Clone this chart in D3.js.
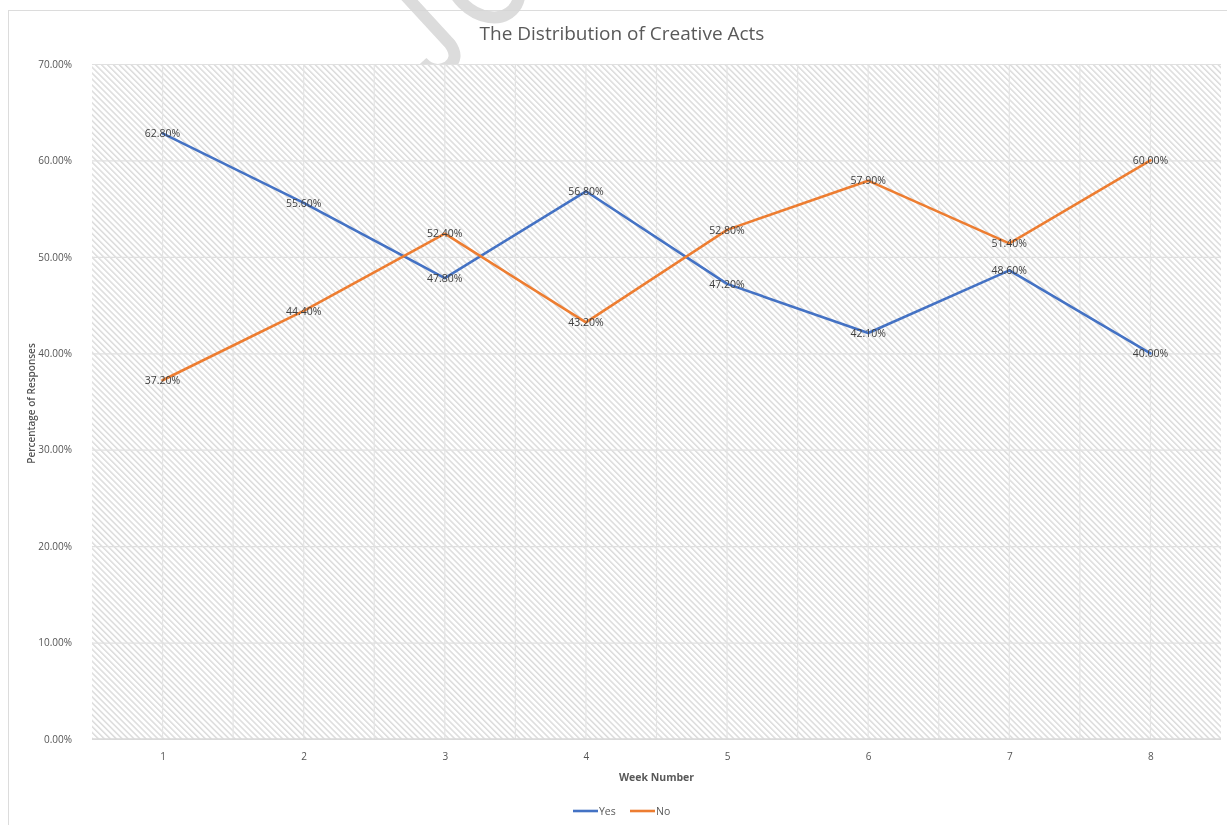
<!DOCTYPE html>
<html>
<head>
<meta charset="utf-8">
<script src="https://cdn.jsdelivr.net/npm/d3@7"></script>
<style>
  html, body { margin: 0; padding: 0; background: #fff; }
  svg { display: block; will-change: transform; }
  text { font-family: "Open Sans", "Noto Sans", sans-serif; }
</style>
</head>
<body>
<svg id="chart" width="1227" height="825"></svg>
<script>
// Weekly share of responses (percent)
const weeks = ["1", "2", "3", "4", "5", "6", "7", "8"];
const yesValues = [62.8, 55.6, 47.8, 56.8, 47.2, 42.1, 48.6, 40.0];
const noValues = [37.2, 44.4, 52.4, 43.2, 52.8, 57.9, 51.4, 60.0];
const yTicks = [0, 10, 20, 30, 40, 50, 60, 70];
const seriesNames = ["Yes", "No"];
const seriesColors = ["#4472C4", "#ED7D31"];

const series = [
  { name: seriesNames[0], color: seriesColors[0], values: yesValues },
  { name: seriesNames[1], color: seriesColors[1], values: noValues }
];

const svg = d3.select("#chart");
const plot = { left: 92, right: 1221, top: 64, bottom: 739 };

// Outer chart frame
svg.append("rect")
  .attr("x", 8.5).attr("y", 10.5)
  .attr("width", 1240).attr("height", 840)
  .attr("fill", "#fff").attr("stroke", "#dcdcdc").attr("stroke-width", 1);

// Faint watermark strokes near the top edge
const wm = svg.append("g")
  .attr("fill", "none")
  .attr("stroke", "#d6d6d6")
  .attr("stroke-width", 12)
  .attr("opacity", 0.85);
wm.append("path")
  .attr("d", "M404,-6 L450,44 Q460,58 448,67 Q434,75 422,62");
wm.append("ellipse")
  .attr("cx", 0).attr("cy", 0).attr("rx", 30).attr("ry", 40)
  .attr("transform", "translate(484,-18) rotate(-45)");

// Diagonal hatch fill for the plot area
const defs = svg.append("defs");
const pat = defs.append("pattern")
  .attr("id", "hatch")
  .attr("patternUnits", "userSpaceOnUse")
  .attr("width", 4.2).attr("height", 4.2)
  .attr("patternTransform", "rotate(-45)");
pat.append("rect").attr("width", 4.2).attr("height", 4.2).attr("fill", "#ffffff");
pat.append("rect").attr("width", 1.5).attr("height", 4.2).attr("fill", "#dcdcdc");

const x = d3.scalePoint().domain(weeks).range([plot.left, plot.right]).padding(0.5);
const y = d3.scaleLinear().domain([0, 70]).range([plot.bottom, plot.top]);
const step = x.step();

svg.append("rect")
  .attr("x", plot.left).attr("y", plot.top)
  .attr("width", plot.right - plot.left).attr("height", plot.bottom - plot.top)
  .attr("fill", "url(#hatch)");

// Vertical gridlines at category centres and category boundaries
const vGrid = svg.append("g");
weeks.forEach((w, i) => {
  const cx = x(w);
  vGrid.append("line")
    .attr("x1", cx).attr("x2", cx).attr("y1", plot.top).attr("y2", plot.bottom)
    .attr("stroke", "#e4e4e4").attr("stroke-width", 1.2);
  const bx = cx - step / 2;
  if (i > 0) {
    vGrid.append("line")
      .attr("x1", bx).attr("x2", bx).attr("y1", plot.top).attr("y2", plot.bottom)
      .attr("stroke", "#e4e4e4").attr("stroke-width", 1.2);
  }
});

// Horizontal gridlines
svg.append("g")
  .attr("transform", `translate(${plot.left},0)`)
  .call(d3.axisLeft(y).tickValues(yTicks).tickSize(-(plot.right - plot.left)).tickFormat(""))
  .call(g => g.select(".domain").remove())
  .call(g => g.selectAll("line").attr("stroke", "#e0e0e0").attr("stroke-width", 1.2));

// Y axis labels
svg.append("g")
  .attr("transform", `translate(${plot.left},0)`)
  .call(d3.axisLeft(y).tickValues(yTicks).tickSize(0).tickPadding(20)
    .tickFormat(d => d.toFixed(2) + "%"))
  .call(g => g.select(".domain").remove())
  .call(g => g.selectAll("text")
    .style("fill", "#555555").style("font-size", "10px")
    .style("font-family", "'Open Sans', sans-serif"));

// X axis baseline and labels
svg.append("g")
  .attr("transform", `translate(0,${plot.bottom})`)
  .call(d3.axisBottom(x).tickSize(0).tickPadding(14))
  .call(g => g.select(".domain")
    .attr("d", `M${plot.left},0H${plot.right}`)
    .attr("stroke", "#d9d9d9").attr("stroke-width", 1.5))
  .call(g => g.selectAll("text")
    .style("fill", "#555555").style("font-size", "10px")
    .style("font-family", "'Open Sans', sans-serif"));

// Series lines
const line = d3.line()
  .x((d, i) => x(weeks[i]))
  .y(d => y(d));

series.forEach(s => {
  svg.append("path")
    .datum(s.values)
    .attr("fill", "none")
    .attr("stroke", s.color)
    .attr("stroke-width", 2.6)
    .attr("stroke-linejoin", "round")
    .attr("stroke-linecap", "round")
    .attr("d", line);
});

// Data labels centred on each point
series.forEach(s => {
  svg.append("g").selectAll("text")
    .data(s.values)
    .join("text")
    .attr("x", (d, i) => x(weeks[i]))
    .attr("y", d => y(d))
    .attr("dy", "0.35em")
    .attr("text-anchor", "middle")
    .style("font-size", "10.5px")
    .style("fill", "#404040")
    .text(d => d.toFixed(2) + "%");
});

// Title
svg.append("text")
  .attr("x", 622).attr("y", 40)
  .attr("text-anchor", "middle")
  .style("font-size", "19px")
  .style("fill", "#595959")
  .text("The Distribution of Creative Acts");

// Axis titles
svg.append("text")
  .attr("transform", `translate(35,${(plot.top + plot.bottom) / 2 + 2}) rotate(-90)`)
  .attr("text-anchor", "middle")
  .style("font-size", "10px")
  .style("font-weight", "600")
  .style("fill", "#555555")
  .text("Percentage of Responses");

svg.append("text")
  .attr("x", (plot.left + plot.right) / 2).attr("y", 781)
  .attr("text-anchor", "middle")
  .style("font-size", "10.5px")
  .style("font-weight", "bold")
  .style("fill", "#595959")
  .text("Week Number");

// Legend
const legend = svg.append("g").attr("transform", "translate(573,811)");
let lx = 0;
series.forEach(s => {
  legend.append("line")
    .attr("x1", lx).attr("x2", lx + 25).attr("y1", 0).attr("y2", 0)
    .attr("stroke", s.color).attr("stroke-width", 2.6);
  legend.append("text")
    .attr("x", lx + 26).attr("y", 0).attr("dy", "0.35em")
    .style("font-size", "10.5px").style("fill", "#595959")
    .text(s.name);
  lx += 57;
});
</script>
</body>
</html>
